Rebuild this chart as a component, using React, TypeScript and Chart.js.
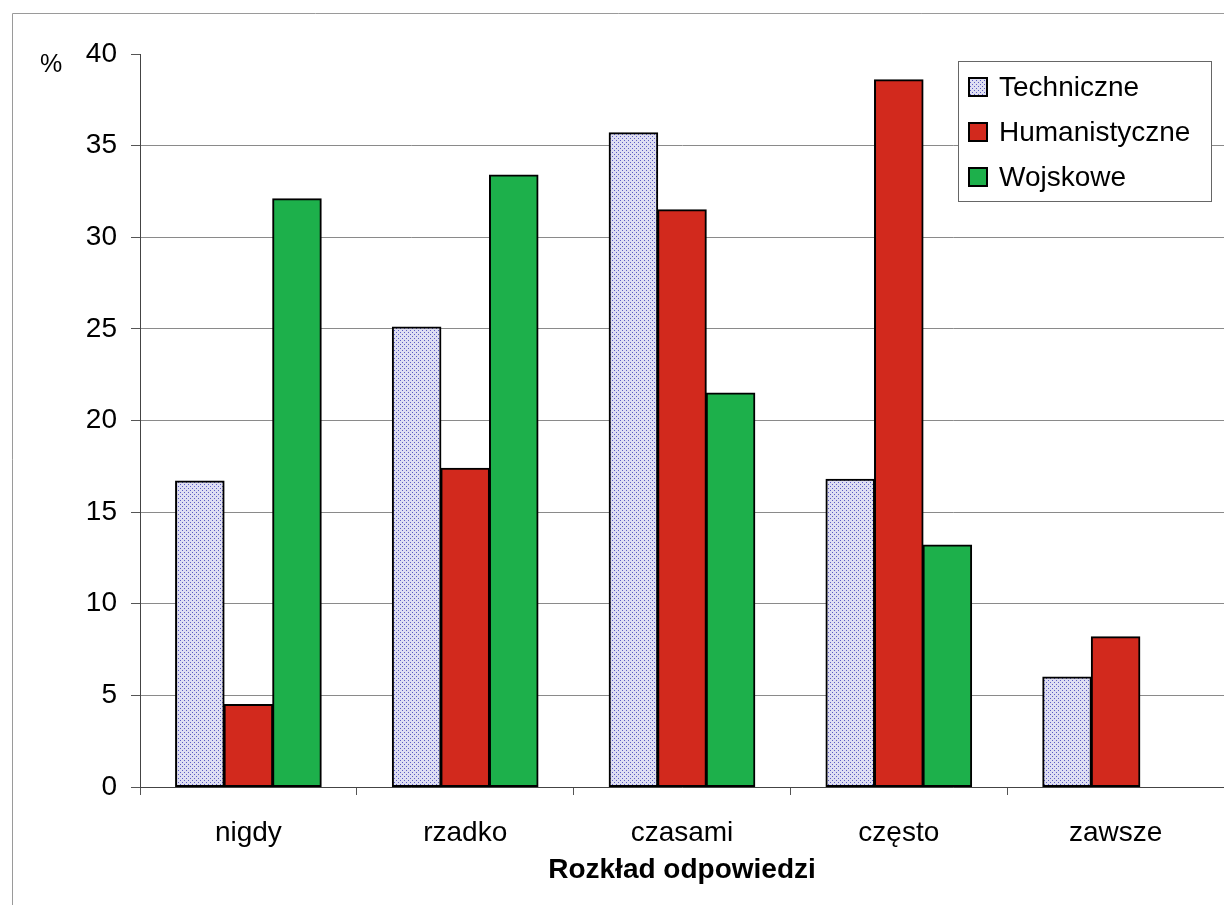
import React, { useEffect, useRef } from "react";
import { Chart, registerables } from "chart.js";

Chart.register(...registerables);

const categories = ["nigdy", "rzadko", "czasami", "często", "zawsze"];
const seriesLabels = ["Techniczne", "Humanistyczne", "Wojskowe"];
const techniczne = [16.7, 25.1, 35.7, 16.8, 6.0];
const humanistyczne = [4.5, 17.4, 31.5, 38.6, 8.2];
const wojskowe = [32.1, 33.4, 21.5, 13.2, null];
const yMin = 0;
const yMax = 40;
const yStep = 5;
const xTitle = "Rozkład odpowiedzi";
const yUnit = "%";

const FONT = "'Liberation Sans', Arial, Helvetica, sans-serif";

function makePattern(): CanvasPattern | string {
  const c = document.createElement("canvas");
  c.width = 4;
  c.height = 4;
  const g = c.getContext("2d");
  if (!g) return "#d4d4ee";
  g.fillStyle = "#dedef2";
  g.fillRect(0, 0, 4, 4);
  g.fillStyle = "#5c5cc4";
  g.fillRect(0, 0, 1, 1);
  g.fillRect(2, 2, 1, 1);
  const p = g.createPattern(c, "repeat");
  return p || "#d4d4ee";
}

export default function App() {
  const ref = useRef<HTMLCanvasElement>(null);

  useEffect(() => {
    if (!ref.current) return;
    const pattern = makePattern();

    const framePlugin = {
      id: "frame",
      beforeDraw(chart: any) {
        const ctx = chart.ctx;
        ctx.save();
        ctx.fillStyle = "#ffffff";
        ctx.fillRect(0, 0, chart.width, chart.height);
        ctx.strokeStyle = "#9a9a9a";
        ctx.lineWidth = 1;
        ctx.beginPath();
        ctx.moveTo(12.5, chart.height);
        ctx.lineTo(12.5, 13.5);
        ctx.lineTo(chart.width, 13.5);
        ctx.stroke();
        ctx.restore();
      },
      afterDraw(chart: any) {
        const ctx = chart.ctx;
        const area = chart.chartArea;
        ctx.save();
        // unit label
        ctx.fillStyle = "#000";
        ctx.font = `25px ${FONT}`;
        ctx.textAlign = "center";
        ctx.textBaseline = "middle";
        ctx.fillText(yUnit, 51, area.top + 11);
        // legend box
        const bx = area.right - 266;
        const by = area.top + 7;
        const bw = 253;
        const bh = 140;
        ctx.fillStyle = "#ffffff";
        ctx.fillRect(bx, by, bw, bh);
        ctx.strokeStyle = "#666";
        ctx.lineWidth = 1;
        ctx.strokeRect(bx + 0.5, by + 0.5, bw, bh);
        chart.data.datasets.forEach((ds: any, i: number) => {
          const cy = by + 26 + i * 45;
          ctx.fillStyle = ds.backgroundColor;
          ctx.fillRect(bx + 10, cy - 10, 20, 20);
          ctx.strokeStyle = "#000";
          ctx.lineWidth = 2;
          ctx.strokeRect(bx + 11, cy - 9, 18, 18);
          ctx.fillStyle = "#000";
          ctx.font = `28px ${FONT}`;
          ctx.textAlign = "left";
          ctx.textBaseline = "middle";
          ctx.fillText(ds.label, bx + 41, cy + 1);
        });
        ctx.restore();
      },
    };

    const barStyle = {
      borderColor: "#000",
      borderWidth: 2,
      borderSkipped: false,
      inflateAmount: 0.5,
    };

    const chart = new Chart(ref.current, {
      type: "bar",
      data: {
        labels: categories,
        datasets: [
          { label: seriesLabels[0], data: techniczne, backgroundColor: pattern as any, ...barStyle },
          { label: seriesLabels[1], data: humanistyczne, backgroundColor: "#d2291d", ...barStyle },
          { label: seriesLabels[2], data: wojskowe as any, backgroundColor: "#1db04b", ...barStyle },
        ],
      },
      options: {
        responsive: false,
        animation: false,
        devicePixelRatio: 1,
        layout: { padding: { top: 54, left: 0, right: 0, bottom: 0 } },
        datasets: { bar: { categoryPercentage: 0.672, barPercentage: 1.0 } },
        plugins: {
          legend: { display: false },
          tooltip: { enabled: false },
        },
        scales: {
          x: {
            grid: {
              display: true,
              drawOnChartArea: false,
              drawTicks: true,
              tickLength: 8,
              tickColor: "#555",
              offset: true,
            },
            border: { color: "#444", width: 1 },
            ticks: {
              color: "#000",
              font: { family: FONT, size: 28 },
              padding: 21,
              maxRotation: 0,
            },
            title: {
              display: true,
              text: xTitle,
              color: "#000",
              font: { family: FONT, size: 28, weight: "bold" },
              padding: { top: 0, bottom: 18 },
            },
            afterFit: (s: any) => {
              s.height = 118;
            },
          },
          y: {
            min: yMin,
            max: yMax,
            ticks: {
              stepSize: yStep,
              color: "#000",
              font: { family: FONT, size: 28 },
              padding: 14,
            },
            grid: {
              color: (c: any) =>
                c.tick && c.tick.value === yMax ? "rgba(0,0,0,0)" : "#8a8a8a",
              tickColor: "#555",
              tickLength: 9,
              lineWidth: 1,
            },
            border: { color: "#444", width: 1 },
            afterFit: (s: any) => {
              s.width = 140;
            },
          },
        },
      },
      plugins: [framePlugin],
    } as any);

    return () => chart.destroy();
  }, []);

  return (
    <div style={{ position: "absolute", left: 0, top: 0, width: 1224, height: 905 }}>
      <canvas ref={ref} width={1224} height={905} style={{ display: "block" }} />
    </div>
  );
}
